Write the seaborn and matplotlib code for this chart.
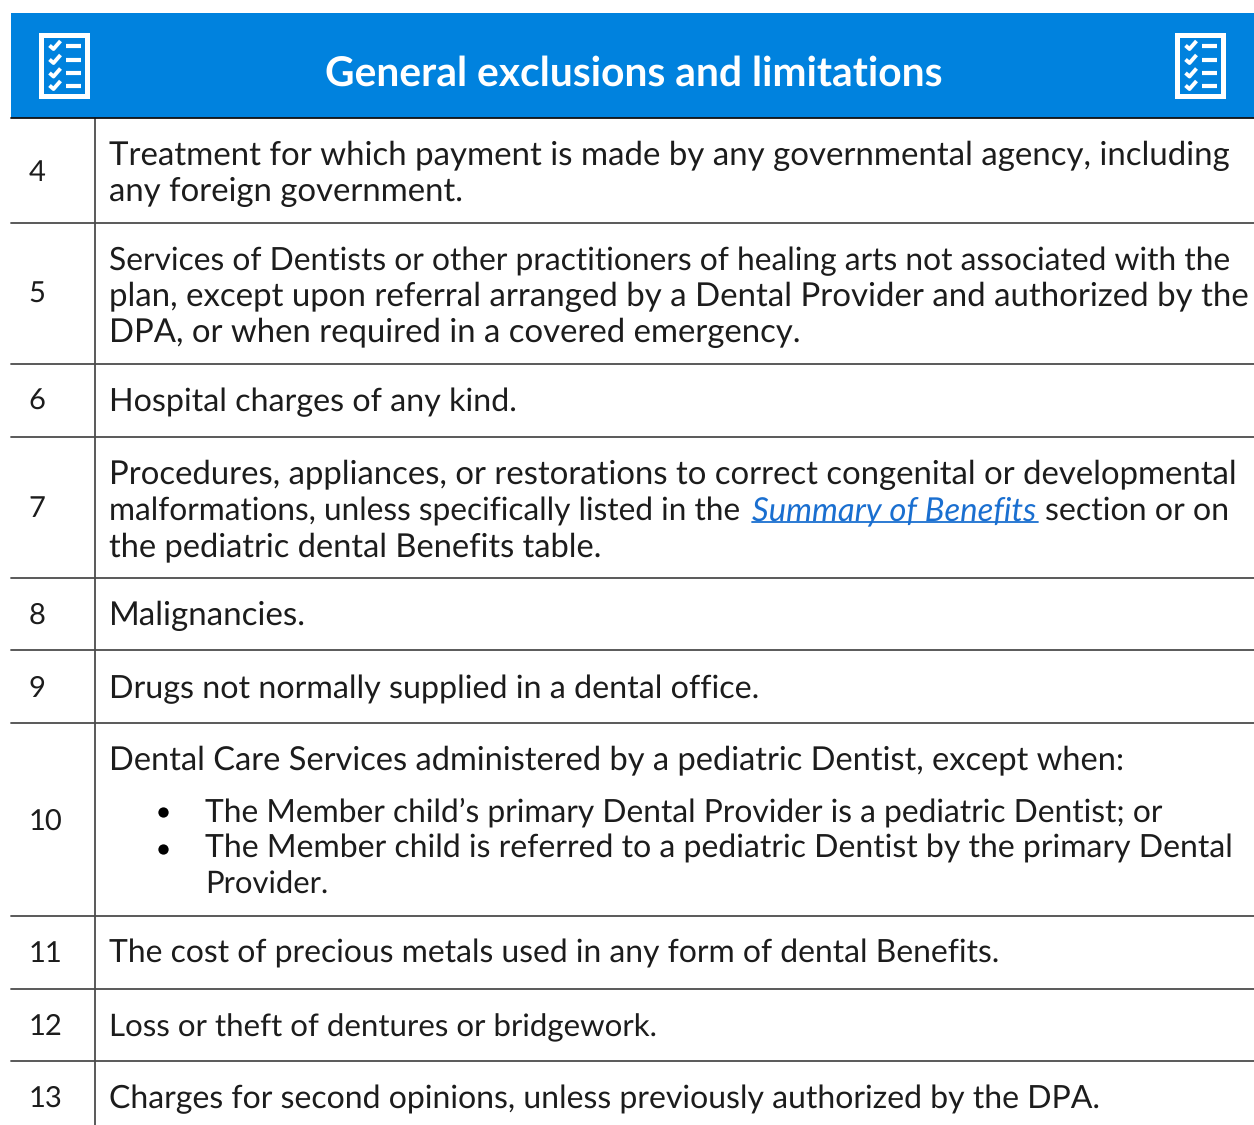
import pandas as pd
import matplotlib
matplotlib.use('Agg')
import matplotlib.pyplot as plt
from matplotlib.patches import Rectangle
import seaborn as sns

sns.set_theme(style="white")
plt.rcParams['font.family'] = ['Lato', 'DejaVu Sans']
plt.rcParams['text.hinting'] = 'no_hinting'

W, H = 1254, 1125
BLUE = '#0082DE'
LINK = '#1A6FD0'
INK = '#1c1c1c'
RULE = '#4c4c4c'

title = 'General exclusions and limitations'

row_numbers = ['4', '5', '6', '7', '8', '9', '10', '11', '12', '13']
row_number_y = [181, 303, 410, 517, 624, 697, 830, 962, 1035, 1107]
rule_y = [223, 364, 437, 578, 650, 723, 916, 989, 1061]

# text, left, right, baseline
body_lines = [
    ('Treatment for which payment is made by any governmental agency, including', 109, 1231, 165),
    ('any foreign government.', 109, 463, 201),
    ('Services of Dentists or other practitioners of healing arts not associated with the', 109, 1228, 270),
    ('plan, except upon referral arranged by a Dental Provider and authorized by the', 109, 1245, 306),
    ('DPA, or when required in a covered emergency.', 109, 801, 342),
    ('Hospital charges of any kind.', 109, 518, 411),
    ('Procedures, appliances, or restorations to correct congenital or developmental', 109, 1236, 484),
    ('malformations, unless specifically listed in the', 109, 742, 520.4),
    ('section or on', 1045, 1229, 520),
    ('the pediatric dental Benefits table.', 109, 602, 556),
    ('Malignancies.', 109, 306, 625),
    ('Drugs not normally supplied in a dental office.', 109, 760, 698),
    ('Dental Care Services administered by a pediatric Dentist, except when:', 109, 1125, 769),
    ('The Member child\u2019s primary Dental Provider is a pediatric Dentist; or', 205, 1163, 822),
    ('The Member child is referred to a pediatric Dentist by the primary Dental', 205, 1231, 858),
    ('Provider.', 205, 328, 894),
    ('The cost of precious metals used in any form of dental Benefits.', 109, 1000, 963),
    ('Loss or theft of dentures or bridgework.', 109, 656, 1036),
    ('Charges for second opinions, unless previously authorized by the DPA.', 109, 1098, 1108),
]
link_text = 'Summary of Benefits'
bullet_y = [812, 849]
icon_left = [38.5, 1174.5]
icon_item_y = [45.5, 59.5, 73, 85.5]

fig = plt.figure(figsize=(W / 100, H / 100), dpi=100)
ax = fig.add_axes([0, 0, 1, 1])
ax.set_xlim(0, W)
ax.set_ylim(H, 0)
ax.axis('off')


def fitted_text(x0, x1, y, s, **kw):
    """Put a line of text so that it runs from x0 to x1 in pixels"""
    t = ax.text(x0, y, s, va='baseline', ha='left', fontsize=20, **kw)
    for _ in range(3):
        width = t.get_window_extent(fig.canvas.get_renderer()).width
        t.set_fontsize(t.get_fontsize() * (x1 - x0) / width)
    return t


# header band
ax.add_patch(Rectangle((11, 13), W - 11, 105, facecolor=BLUE, edgecolor='none'))
fitted_text(325, 943, 86, title, color='white', fontweight='bold')

# rules of the table
rules = []
for i, y in enumerate(rule_y):
    rules += [{'x': 11, 'y': y, 'rule': i}, {'x': W, 'y': y, 'rule': i}]
rules += [{'x': 95, 'y': 118, 'rule': 99}, {'x': 95, 'y': H, 'rule': 99}]
sns.lineplot(data=pd.DataFrame(rules), x='x', y='y', units='rule', estimator=None,
             color=RULE, lw=1.3, ax=ax, legend=False)
ax.plot([11, W], [118, 118], color='#111111', lw=1.3)
ax.set_xlim(0, W)
ax.set_ylim(H, 0)
ax.axis('off')

# checklist icons
for left in icon_left:
    ax.add_patch(Rectangle((left + 2.5, 34.5), 46, 61, facecolor='none',
                           edgecolor='white', lw=3.6))
    for y in icon_item_y:
        ax.plot([left + 27, left + 42], [y, y], color='white', lw=3, solid_capstyle='butt')
        ax.plot([left + 11, left + 15, left + 22], [y, y + 3.5, y - 4.5], color='white',
                lw=2.8, solid_capstyle='butt')

# row numbers
for num, y in zip(row_numbers, row_number_y):
    ax.text(28.5, y, num, va='baseline', ha='left', fontsize=21, color=INK)

# body text
for s, x0, x1, y in body_lines:
    fitted_text(x0, x1, y, s, color=INK)

# link with its underline
fitted_text(752, 1037, 520, link_text, color=LINK, fontstyle='italic')
ax.plot([752, 1038], [522, 522], color=LINK, lw=1.3)

# bullets
ax.scatter([163] * len(bullet_y), bullet_y, s=55, color='black', linewidths=0, zorder=3)

fig.savefig('out.png', dpi=100)
